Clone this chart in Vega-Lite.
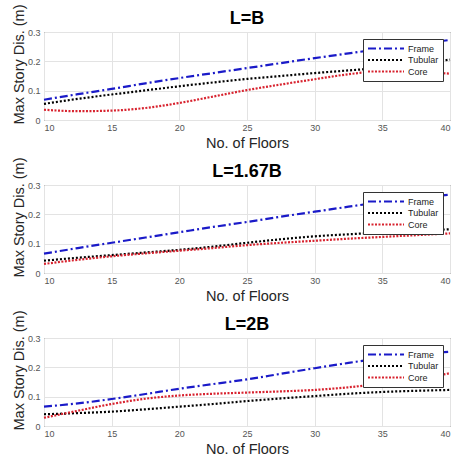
{
"$schema": "https://vega.github.io/schema/vega-lite/v6.json",
"padding": {"left": 10, "top": 3, "right": 0, "bottom": 0},
"spacing": 6,
"datasets": {"d": [
{"c":"L=B","t":"Frame","f":10,"v":0.069},{"c":"L=B","t":"Frame","f":12.5,"v":0.088},{"c":"L=B","t":"Frame","f":15,"v":0.106},{"c":"L=B","t":"Frame","f":17.5,"v":0.125},{"c":"L=B","t":"Frame","f":20,"v":0.143},{"c":"L=B","t":"Frame","f":22.5,"v":0.160},{"c":"L=B","t":"Frame","f":25,"v":0.177},{"c":"L=B","t":"Frame","f":27.5,"v":0.194},{"c":"L=B","t":"Frame","f":30,"v":0.211},{"c":"L=B","t":"Frame","f":32.5,"v":0.227},{"c":"L=B","t":"Frame","f":35,"v":0.243},{"c":"L=B","t":"Frame","f":37.5,"v":0.258},{"c":"L=B","t":"Frame","f":40,"v":0.273},
{"c":"L=B","t":"Tubular","f":10,"v":0.055},{"c":"L=B","t":"Tubular","f":12.5,"v":0.072},{"c":"L=B","t":"Tubular","f":15,"v":0.087},{"c":"L=B","t":"Tubular","f":17.5,"v":0.101},{"c":"L=B","t":"Tubular","f":20,"v":0.115},{"c":"L=B","t":"Tubular","f":22.5,"v":0.128},{"c":"L=B","t":"Tubular","f":25,"v":0.140},{"c":"L=B","t":"Tubular","f":27.5,"v":0.150},{"c":"L=B","t":"Tubular","f":30,"v":0.160},{"c":"L=B","t":"Tubular","f":32.5,"v":0.169},{"c":"L=B","t":"Tubular","f":35,"v":0.178},{"c":"L=B","t":"Tubular","f":37.5,"v":0.190},{"c":"L=B","t":"Tubular","f":40,"v":0.206},
{"c":"L=B","t":"Core","f":10,"v":0.035},{"c":"L=B","t":"Core","f":12.5,"v":0.030},{"c":"L=B","t":"Core","f":15,"v":0.032},{"c":"L=B","t":"Core","f":17.5,"v":0.041},{"c":"L=B","t":"Core","f":20,"v":0.058},{"c":"L=B","t":"Core","f":22.5,"v":0.080},{"c":"L=B","t":"Core","f":25,"v":0.102},{"c":"L=B","t":"Core","f":27.5,"v":0.121},{"c":"L=B","t":"Core","f":30,"v":0.139},{"c":"L=B","t":"Core","f":32.5,"v":0.156},{"c":"L=B","t":"Core","f":35,"v":0.166},{"c":"L=B","t":"Core","f":37.5,"v":0.164},{"c":"L=B","t":"Core","f":40,"v":0.158},
{"c":"L=1.67B","t":"Frame","f":10,"v":0.066},{"c":"L=1.67B","t":"Frame","f":12.5,"v":0.085},{"c":"L=1.67B","t":"Frame","f":15,"v":0.103},{"c":"L=1.67B","t":"Frame","f":17.5,"v":0.121},{"c":"L=1.67B","t":"Frame","f":20,"v":0.139},{"c":"L=1.67B","t":"Frame","f":22.5,"v":0.157},{"c":"L=1.67B","t":"Frame","f":25,"v":0.174},{"c":"L=1.67B","t":"Frame","f":27.5,"v":0.192},{"c":"L=1.67B","t":"Frame","f":30,"v":0.209},{"c":"L=1.67B","t":"Frame","f":32.5,"v":0.226},{"c":"L=1.67B","t":"Frame","f":35,"v":0.242},{"c":"L=1.67B","t":"Frame","f":37.5,"v":0.256},{"c":"L=1.67B","t":"Frame","f":40,"v":0.267},
{"c":"L=1.67B","t":"Tubular","f":10,"v":0.042},{"c":"L=1.67B","t":"Tubular","f":12.5,"v":0.052},{"c":"L=1.67B","t":"Tubular","f":15,"v":0.061},{"c":"L=1.67B","t":"Tubular","f":17.5,"v":0.070},{"c":"L=1.67B","t":"Tubular","f":20,"v":0.079},{"c":"L=1.67B","t":"Tubular","f":22.5,"v":0.090},{"c":"L=1.67B","t":"Tubular","f":25,"v":0.103},{"c":"L=1.67B","t":"Tubular","f":27.5,"v":0.115},{"c":"L=1.67B","t":"Tubular","f":30,"v":0.125},{"c":"L=1.67B","t":"Tubular","f":32.5,"v":0.132},{"c":"L=1.67B","t":"Tubular","f":35,"v":0.138},{"c":"L=1.67B","t":"Tubular","f":37.5,"v":0.144},{"c":"L=1.67B","t":"Tubular","f":40,"v":0.149},
{"c":"L=1.67B","t":"Core","f":10,"v":0.031},{"c":"L=1.67B","t":"Core","f":12.5,"v":0.045},{"c":"L=1.67B","t":"Core","f":15,"v":0.057},{"c":"L=1.67B","t":"Core","f":17.5,"v":0.067},{"c":"L=1.67B","t":"Core","f":20,"v":0.076},{"c":"L=1.67B","t":"Core","f":22.5,"v":0.085},{"c":"L=1.67B","t":"Core","f":25,"v":0.095},{"c":"L=1.67B","t":"Core","f":27.5,"v":0.103},{"c":"L=1.67B","t":"Core","f":30,"v":0.110},{"c":"L=1.67B","t":"Core","f":32.5,"v":0.117},{"c":"L=1.67B","t":"Core","f":35,"v":0.123},{"c":"L=1.67B","t":"Core","f":37.5,"v":0.129},{"c":"L=1.67B","t":"Core","f":40,"v":0.135},
{"c":"L=2B","t":"Frame","f":10,"v":0.066},{"c":"L=2B","t":"Frame","f":12.5,"v":0.077},{"c":"L=2B","t":"Frame","f":15,"v":0.092},{"c":"L=2B","t":"Frame","f":17.5,"v":0.109},{"c":"L=2B","t":"Frame","f":20,"v":0.127},{"c":"L=2B","t":"Frame","f":22.5,"v":0.143},{"c":"L=2B","t":"Frame","f":25,"v":0.159},{"c":"L=2B","t":"Frame","f":27.5,"v":0.178},{"c":"L=2B","t":"Frame","f":30,"v":0.197},{"c":"L=2B","t":"Frame","f":32.5,"v":0.215},{"c":"L=2B","t":"Frame","f":35,"v":0.232},{"c":"L=2B","t":"Frame","f":37.5,"v":0.245},{"c":"L=2B","t":"Frame","f":40,"v":0.253},
{"c":"L=2B","t":"Tubular","f":10,"v":0.040},{"c":"L=2B","t":"Tubular","f":12.5,"v":0.044},{"c":"L=2B","t":"Tubular","f":15,"v":0.049},{"c":"L=2B","t":"Tubular","f":17.5,"v":0.057},{"c":"L=2B","t":"Tubular","f":20,"v":0.066},{"c":"L=2B","t":"Tubular","f":22.5,"v":0.075},{"c":"L=2B","t":"Tubular","f":25,"v":0.085},{"c":"L=2B","t":"Tubular","f":27.5,"v":0.094},{"c":"L=2B","t":"Tubular","f":30,"v":0.102},{"c":"L=2B","t":"Tubular","f":32.5,"v":0.110},{"c":"L=2B","t":"Tubular","f":35,"v":0.116},{"c":"L=2B","t":"Tubular","f":37.5,"v":0.120},{"c":"L=2B","t":"Tubular","f":40,"v":0.123},
{"c":"L=2B","t":"Core","f":10,"v":0.028},{"c":"L=2B","t":"Core","f":12.5,"v":0.052},{"c":"L=2B","t":"Core","f":15,"v":0.075},{"c":"L=2B","t":"Core","f":17.5,"v":0.093},{"c":"L=2B","t":"Core","f":20,"v":0.104},{"c":"L=2B","t":"Core","f":22.5,"v":0.110},{"c":"L=2B","t":"Core","f":25,"v":0.114},{"c":"L=2B","t":"Core","f":27.5,"v":0.118},{"c":"L=2B","t":"Core","f":30,"v":0.123},{"c":"L=2B","t":"Core","f":32.5,"v":0.132},{"c":"L=2B","t":"Core","f":35,"v":0.145},{"c":"L=2B","t":"Core","f":37.5,"v":0.160},{"c":"L=2B","t":"Core","f":40,"v":0.180}
]},
"config": {
  "font": "Liberation Sans",
  "view": {"stroke": "#3a3a3a", "strokeWidth": 1},
  "axis": {"grid": true, "gridColor": "#e3e3e3", "domain": false, "ticks": false, "labelFontSize": 9, "labelColor": "#555555", "labelPadding": 4, "titleFontSize": 14.5, "titleFontWeight": "normal", "titleColor": "#262626"},
  "axisX": {"titlePadding": 4, "labelPadding": 3},
  "axisY": {"titlePadding": 1, "titleY": 32},
  "title": {"fontSize": 18, "fontWeight": "bold", "offset": -24, "anchor": "middle", "color": "#000000"},
  "legend": {"orient": "top-right", "offset": 7, "symbolType": "M-1,0H7", "symbolSize": 81, "symbolStrokeWidth": 2, "labelFontSize": 9, "labelColor": "#222222", "labelOffset": 30, "padding": 4, "rowPadding": 0.5, "strokeColor": "#333333", "fillColor": "#ffffff", "cornerRadius": 0}
},
"resolve": {"legend": {"color": "independent", "strokeDash": "independent"}},
"vconcat": [
 {"title": "L=B", "width": 406, "height": 88, "data": {"name": "d"}, "transform": [{"filter": "datum.c === 'L=B'"}],
  "mark": {"type": "line", "strokeWidth": 2.2, "interpolate": "monotone"},
  "encoding": {
   "x": {"field": "f", "type": "quantitative", "scale": {"domain": [10, 40], "nice": false}, "axis": {"values": [10,15,20,25,30,35,40], "title": "No. of Floors"}},
   "y": {"field": "v", "type": "quantitative", "scale": {"domain": [0, 0.3], "nice": false}, "axis": {"values": [0,0.1,0.2,0.3], "format": "~g", "title": "Max Story Dis. (m)"}},
   "color": {"field": "t", "type": "nominal", "scale": {"domain": ["Frame","Tubular","Core"], "range": ["#1a1ac8","#000000","#d8232f"]}, "legend": {"title": null}},
   "strokeDash": {"field": "t", "type": "nominal", "scale": {"domain": ["Frame","Tubular","Core"], "range": [[8,3,2,3],[2,2],[2,1.5]]}, "legend": {"title": null}}
  }},
 {"title": "L=1.67B", "width": 406, "height": 88, "data": {"name": "d"}, "transform": [{"filter": "datum.c === 'L=1.67B'"}],
  "mark": {"type": "line", "strokeWidth": 2.2, "interpolate": "monotone"},
  "encoding": {
   "x": {"field": "f", "type": "quantitative", "scale": {"domain": [10, 40], "nice": false}, "axis": {"values": [10,15,20,25,30,35,40], "title": "No. of Floors"}},
   "y": {"field": "v", "type": "quantitative", "scale": {"domain": [0, 0.3], "nice": false}, "axis": {"values": [0,0.1,0.2,0.3], "format": "~g", "title": "Max Story Dis. (m)"}},
   "color": {"field": "t", "type": "nominal", "scale": {"domain": ["Frame","Tubular","Core"], "range": ["#1a1ac8","#000000","#d8232f"]}, "legend": {"title": null}},
   "strokeDash": {"field": "t", "type": "nominal", "scale": {"domain": ["Frame","Tubular","Core"], "range": [[8,3,2,3],[2,2],[2,1.5]]}, "legend": {"title": null}}
  }},
 {"title": "L=2B", "width": 406, "height": 88, "data": {"name": "d"}, "transform": [{"filter": "datum.c === 'L=2B'"}],
  "mark": {"type": "line", "strokeWidth": 2.2, "interpolate": "monotone"},
  "encoding": {
   "x": {"field": "f", "type": "quantitative", "scale": {"domain": [10, 40], "nice": false}, "axis": {"values": [10,15,20,25,30,35,40], "title": "No. of Floors"}},
   "y": {"field": "v", "type": "quantitative", "scale": {"domain": [0, 0.3], "nice": false}, "axis": {"values": [0,0.1,0.2,0.3], "format": "~g", "title": "Max Story Dis. (m)"}},
   "color": {"field": "t", "type": "nominal", "scale": {"domain": ["Frame","Tubular","Core"], "range": ["#1a1ac8","#000000","#d8232f"]}, "legend": {"title": null}},
   "strokeDash": {"field": "t", "type": "nominal", "scale": {"domain": ["Frame","Tubular","Core"], "range": [[8,3,2,3],[2,2],[2,1.5]]}, "legend": {"title": null}}
  }}
]
}
